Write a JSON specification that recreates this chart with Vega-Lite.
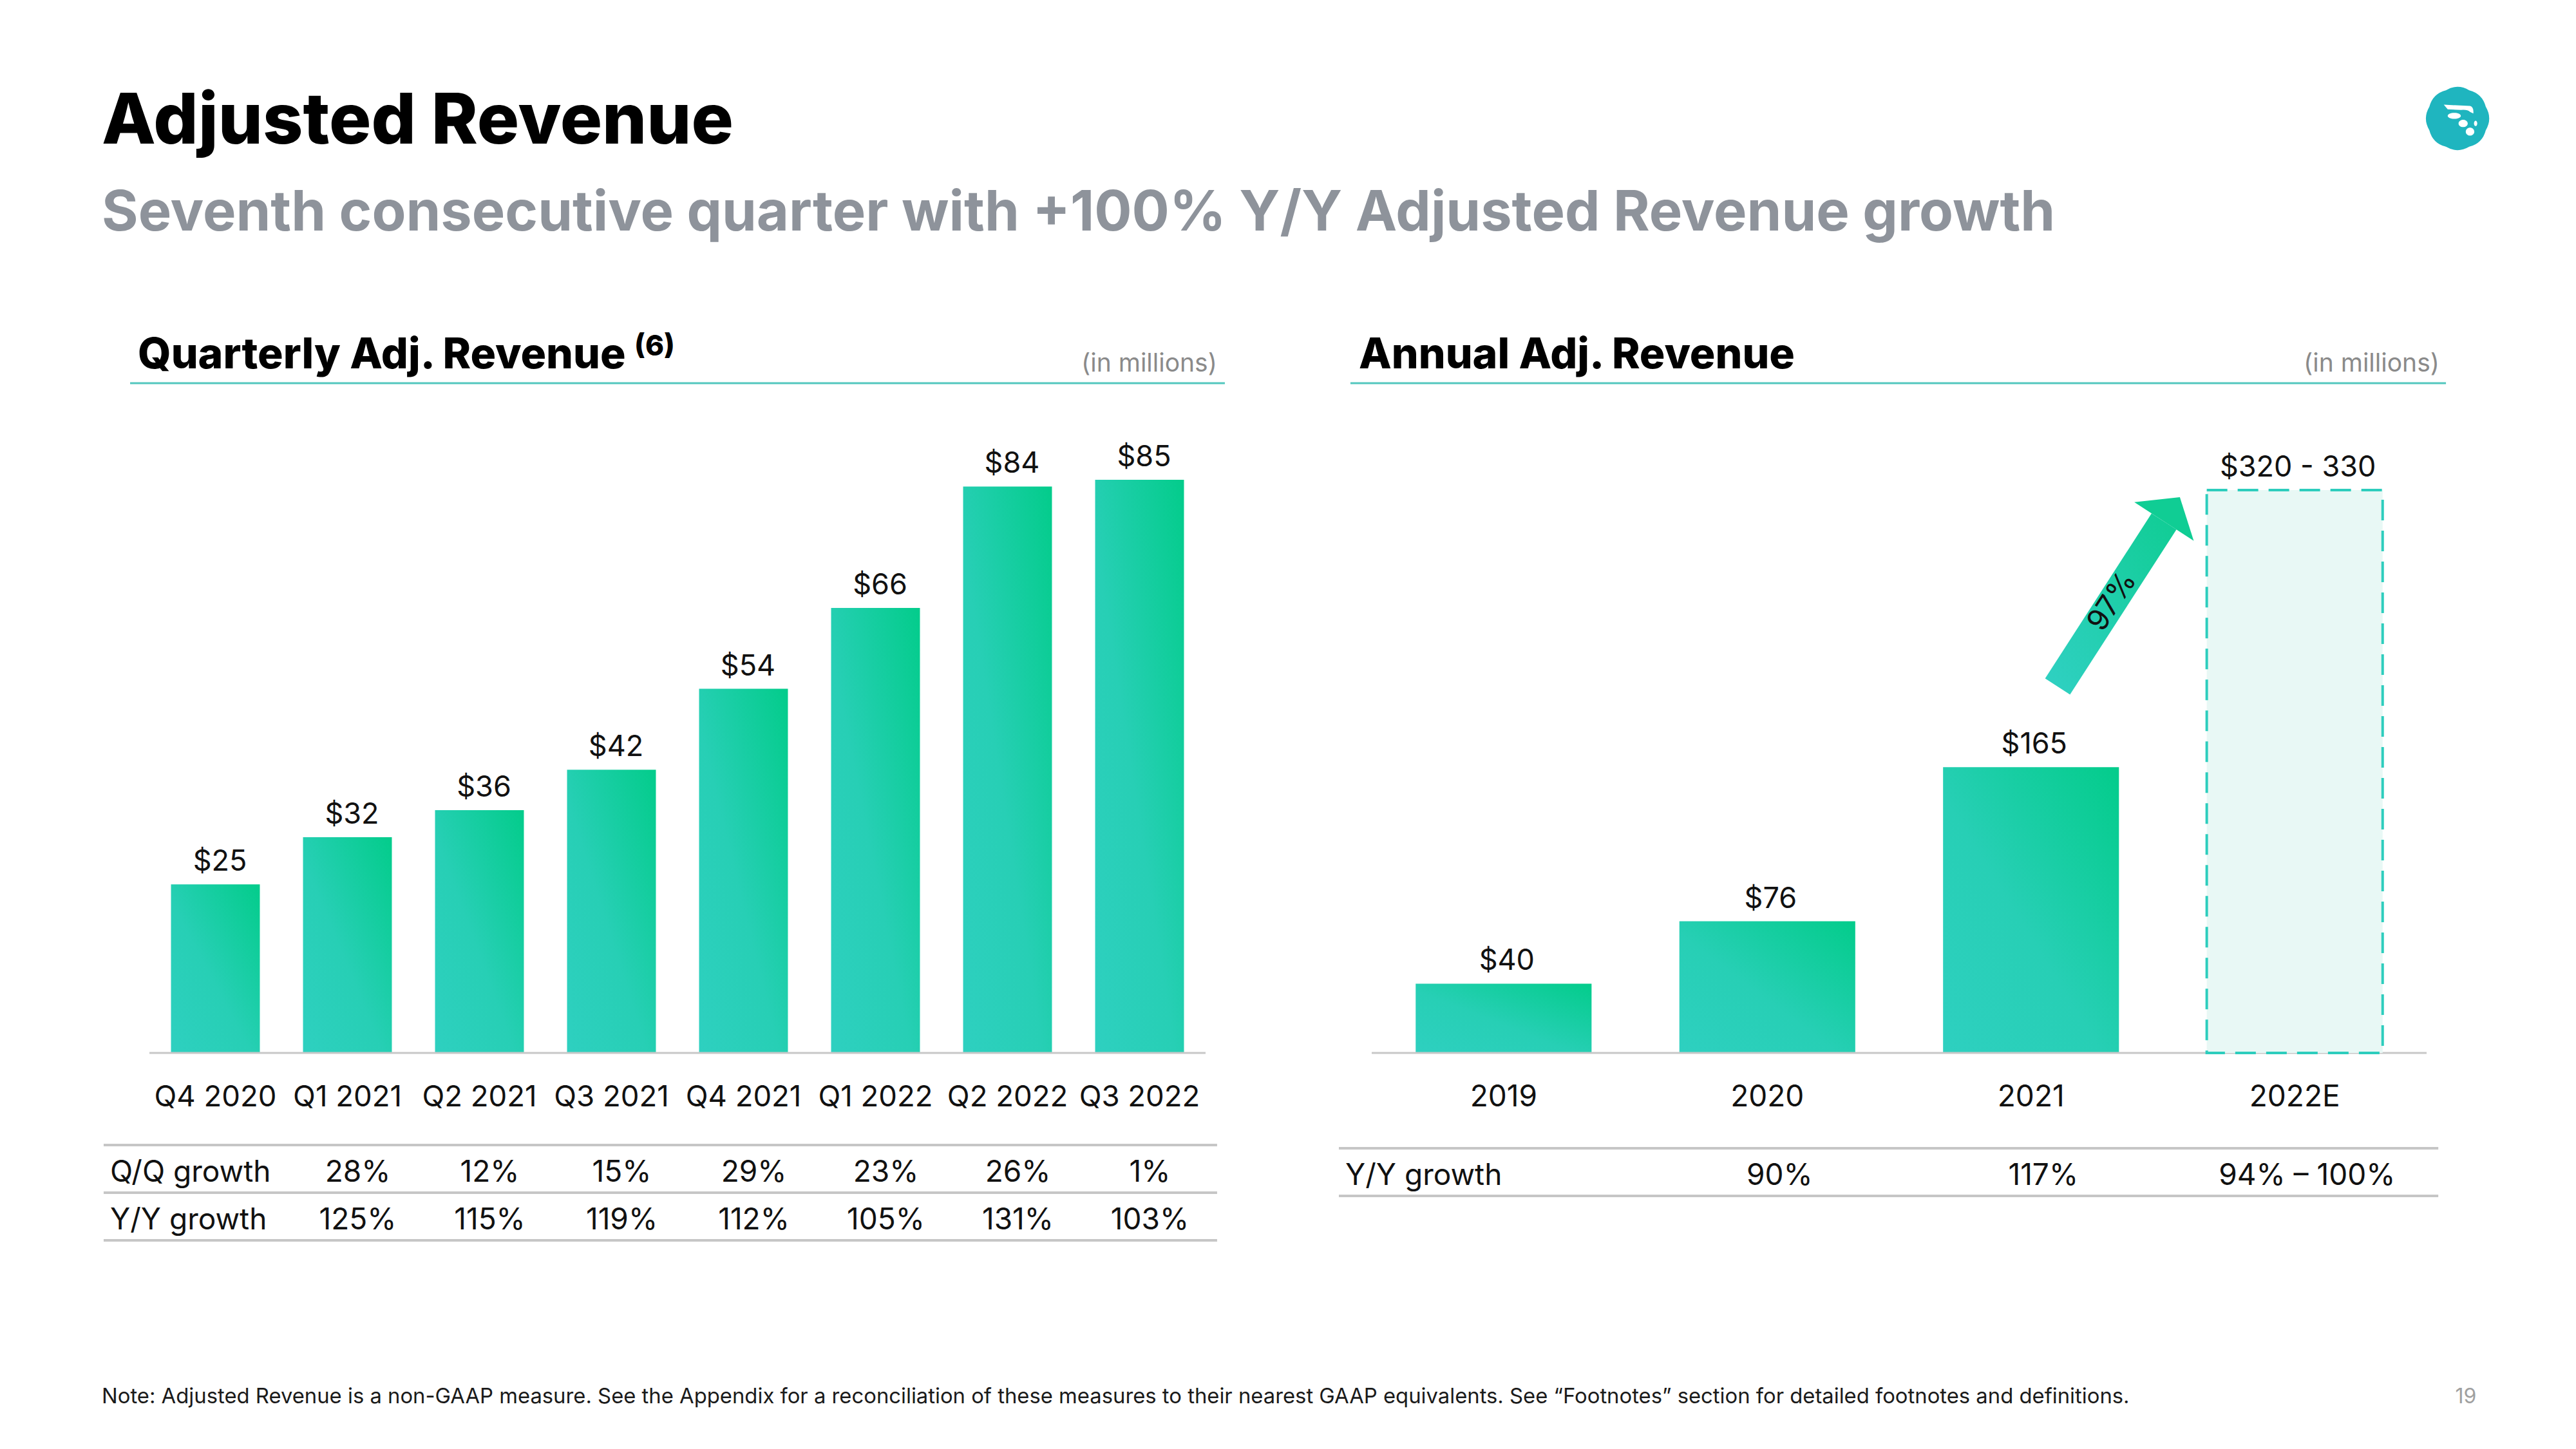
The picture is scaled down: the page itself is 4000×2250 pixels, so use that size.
{
"$schema":"https://vega.github.io/schema/vega-lite/v6.json",
"width":4000,"height":2250,"autosize":"none","padding":0,"background":"#ffffff",
"config":{"view":{"stroke":null},"text":{"font":"Inter"},"axis":{"labelFont":"Inter","grid":false}},
"title":{"text":"Adjusted Revenue","subtitle":"Seventh consecutive quarter with +100% Y/Y Adjusted Revenue growth","anchor":"start","frame":"group","dx":158,"offset":-376.5,"font":"Inter","fontSize":109,"fontWeight":800,"color":"#000000","subtitleFont":"Inter","subtitleFontSize":86.5,"subtitleFontWeight":700,"subtitleColor":"#8E939B","subtitlePadding":44},
"datasets":{
 "quarterly":[
  {"quarter":"Q4 2020","revenue":25},{"quarter":"Q1 2021","revenue":32},{"quarter":"Q2 2021","revenue":36},{"quarter":"Q3 2021","revenue":42},
  {"quarter":"Q4 2021","revenue":54},{"quarter":"Q1 2022","revenue":66},{"quarter":"Q2 2022","revenue":84},{"quarter":"Q3 2022","revenue":85}],
 "quarterly_growth":[
  {"quarter":"Q1 2021","metric":"Q/Q growth","growth":"28%"},{"quarter":"Q2 2021","metric":"Q/Q growth","growth":"12%"},{"quarter":"Q3 2021","metric":"Q/Q growth","growth":"15%"},{"quarter":"Q4 2021","metric":"Q/Q growth","growth":"29%"},{"quarter":"Q1 2022","metric":"Q/Q growth","growth":"23%"},{"quarter":"Q2 2022","metric":"Q/Q growth","growth":"26%"},{"quarter":"Q3 2022","metric":"Q/Q growth","growth":"1%"},
  {"quarter":"Q1 2021","metric":"Y/Y growth","growth":"125%"},{"quarter":"Q2 2021","metric":"Y/Y growth","growth":"115%"},{"quarter":"Q3 2021","metric":"Y/Y growth","growth":"119%"},{"quarter":"Q4 2021","metric":"Y/Y growth","growth":"112%"},{"quarter":"Q1 2022","metric":"Y/Y growth","growth":"105%"},{"quarter":"Q2 2022","metric":"Y/Y growth","growth":"131%"},{"quarter":"Q3 2022","metric":"Y/Y growth","growth":"103%"}],
 "quarterly_metrics":[{"metric":"Q/Q growth"},{"metric":"Y/Y growth"}],
 "annual":[
  {"year":"2019","revenue":40,"label":"$40","kind":"actual"},{"year":"2020","revenue":76,"label":"$76","kind":"actual"},{"year":"2021","revenue":165,"label":"$165","kind":"actual"},{"year":"2022E","revenue":325,"label":"$320 - 330","kind":"estimate"}],
 "annual_growth":[
  {"year":"2020","metric":"Y/Y growth","growth":"90%"},{"year":"2021","metric":"Y/Y growth","growth":"117%"},{"year":"2022E","metric":"Y/Y growth","growth":"94% – 100%"}],
 "annual_metrics":[{"metric":"Y/Y growth"}]
},
"layer":[
 {"layer":[
  {"data":{"name":"quarterly"},
   "mark":{"type":"bar","color":{"gradient":"linear","x1":0,"y1":1,"x2":1,"y2":0,"stops":[{"offset":0,"color":"#2ED0C0"},{"offset":0.45,"color":"#27CFB5"},{"offset":1,"color":"#03CC8B"}]}},
   "encoding":{
    "x":{"field":"quarter","type":"nominal","scale":{"type":"band","domain":["Q4 2020","Q1 2021","Q2 2021","Q3 2021","Q4 2021","Q1 2022","Q2 2022","Q3 2022"],"range":[232,1872],"paddingInner":0.327,"paddingOuter":0.1635},"axis":null},
    "y":{"field":"revenue","type":"quantitative","scale":{"type":"linear","domain":[0,85],"range":[1635,745],"nice":false,"zero":false},"axis":null}}},
  {"data":{"values":[{"text":"baseline"}]},
   "mark":{"type":"rule","color":"#C8C8C8","strokeWidth":3},
   "encoding":{
    "x":{"datum":"Q4 2020","type":"nominal","bandPosition":-0.2428,"scale":{"type":"band","domain":["Q4 2020","Q1 2021","Q2 2021","Q3 2021","Q4 2021","Q1 2022","Q2 2022","Q3 2022"],"range":[232,1872],"paddingInner":0.327,"paddingOuter":0.1635},"axis":null},
    "x2":{"datum":"Q3 2022","bandPosition":1.2428},
    "y":{"datum":0,"type":"quantitative","scale":{"type":"linear","domain":[0,85],"range":[1635,745],"nice":false,"zero":false},"axis":null}}},
  {"data":{"name":"quarterly"},
   "mark":{"type":"text","fontSize":45.5,"color":"#111111","align":"center","baseline":"alphabetic"},
   "encoding":{
    "x":{"field":"quarter","type":"nominal","scale":{"type":"band","domain":["Q4 2020","Q1 2021","Q2 2021","Q3 2021","Q4 2021","Q1 2022","Q2 2022","Q3 2022"],"range":[232,1872],"paddingInner":0.327,"paddingOuter":0.1635},"axis":null},
    "y":{"datum":-7.93,"type":"quantitative","scale":{"type":"linear","domain":[0,85],"range":[1635,745],"nice":false,"zero":false},"axis":null},
    "text":{"field":"quarter","type":"nominal"}}},
  {"data":{"name":"quarterly"},
   "mark":{"type":"text","dy":-21,"dx":7,"fontSize":45,"color":"#111111","align":"center","baseline":"alphabetic"},
   "encoding":{
    "x":{"field":"quarter","type":"nominal","scale":{"type":"band","domain":["Q4 2020","Q1 2021","Q2 2021","Q3 2021","Q4 2021","Q1 2022","Q2 2022","Q3 2022"],"range":[232,1872],"paddingInner":0.327,"paddingOuter":0.1635},"axis":null},
    "y":{"field":"revenue","type":"quantitative","scale":{"type":"linear","domain":[0,85],"range":[1635,745],"nice":false,"zero":false},"axis":null},
    "text":{"field":"revenue","type":"quantitative","format":"$.0f"}}},
  {"data":{"values":[{"text":"Quarterly Adj. Revenue"}]},
   "mark":{"type":"text","align":"left","baseline":"alphabetic","fontSize":66,"fontWeight":800,"color":"#000000"},
   "encoding":{
    "x":{"datum":"Q4 2020","type":"nominal","bandPosition":-0.373,"scale":{"type":"band","domain":["Q4 2020","Q1 2021","Q2 2021","Q3 2021","Q4 2021","Q1 2022","Q2 2022","Q3 2022"],"range":[232,1872],"paddingInner":0.327,"paddingOuter":0.1635},"axis":null},
    "y":{"datum":101.52,"type":"quantitative","scale":{"type":"linear","domain":[0,85],"range":[1635,745],"nice":false,"zero":false},"axis":null},
    "text":{"field":"text","type":"nominal"}}},
  {"data":{"values":[{"text":"(6)"}]},
   "mark":{"type":"text","align":"left","baseline":"alphabetic","fontSize":44,"fontWeight":800,"color":"#000000"},
   "encoding":{
    "x":{"datum":"Q4 2021","type":"nominal","bandPosition":-0.728,"scale":{"type":"band","domain":["Q4 2020","Q1 2021","Q2 2021","Q3 2021","Q4 2021","Q1 2022","Q2 2022","Q3 2022"],"range":[232,1872],"paddingInner":0.327,"paddingOuter":0.1635},"axis":null},
    "y":{"datum":103.43,"type":"quantitative","scale":{"type":"linear","domain":[0,85],"range":[1635,745],"nice":false,"zero":false},"axis":null},
    "text":{"field":"text","type":"nominal"}}},
  {"data":{"values":[{"text":"(in millions)"}]},
   "mark":{"type":"text","align":"right","baseline":"alphabetic","fontSize":39,"color":"#8A8A8A"},
   "encoding":{
    "x":{"datum":"Q3 2022","type":"nominal","bandPosition":1.373,"scale":{"type":"band","domain":["Q4 2020","Q1 2021","Q2 2021","Q3 2021","Q4 2021","Q1 2022","Q2 2022","Q3 2022"],"range":[232,1872],"paddingInner":0.327,"paddingOuter":0.1635},"axis":null},
    "y":{"datum":101.04,"type":"quantitative","scale":{"type":"linear","domain":[0,85],"range":[1635,745],"nice":false,"zero":false},"axis":null},
    "text":{"field":"text","type":"nominal"}}},
  {"data":{"values":[{"text":"rule"}]},
   "mark":{"type":"rule","color":"#52C7BE","strokeWidth":3},
   "encoding":{
    "x":{"datum":"Q4 2020","type":"nominal","bandPosition":-0.46,"scale":{"type":"band","domain":["Q4 2020","Q1 2021","Q2 2021","Q3 2021","Q4 2021","Q1 2022","Q2 2022","Q3 2022"],"range":[232,1872],"paddingInner":0.327,"paddingOuter":0.1635},"axis":null},
    "x2":{"datum":"Q3 2022","bandPosition":1.46},
    "y":{"datum":99.33,"type":"quantitative","scale":{"type":"linear","domain":[0,85],"range":[1635,745],"nice":false,"zero":false},"axis":null}}},
  {"data":{"values":[{"text":"Note: Adjusted Revenue is a non-GAAP measure. See the Appendix for a reconciliation of these measures to their nearest GAAP equivalents. See “Footnotes” section for detailed footnotes and definitions."}]},
   "mark":{"type":"text","align":"left","baseline":"alphabetic","fontSize":32.8,"color":"#1A1A1A"},
   "encoding":{
    "x":{"datum":"Q4 2020","type":"nominal","bandPosition":-0.779,"scale":{"type":"band","domain":["Q4 2020","Q1 2021","Q2 2021","Q3 2021","Q4 2021","Q1 2022","Q2 2022","Q3 2022"],"range":[232,1872],"paddingInner":0.327,"paddingOuter":0.1635},"axis":null},
    "y":{"datum":-51.95,"type":"quantitative","scale":{"type":"linear","domain":[0,85],"range":[1635,745],"nice":false,"zero":false},"axis":null},
    "text":{"field":"text","type":"nominal"}}}
 ]},
 {"layer":[
  {"data":{"name":"quarterly_growth"},
   "mark":{"type":"text","align":"center","baseline":"middle","dy":6,"dx":3,"fontSize":46,"color":"#111111"},
   "encoding":{
    "x":{"field":"quarter","type":"nominal","scale":{"type":"band","domain":["Q4 2020","Q1 2021","Q2 2021","Q3 2021","Q4 2021","Q1 2022","Q2 2022","Q3 2022"],"range":[245,1885],"paddingInner":0,"paddingOuter":0},"axis":null},
    "y":{"field":"metric","type":"nominal","scale":{"type":"band","domain":["Q/Q growth","Y/Y growth"],"range":[1778,1926],"paddingInner":0,"paddingOuter":0},"axis":null},
    "text":{"field":"growth","type":"nominal"}}},
  {"data":{"name":"quarterly_metrics"},
   "mark":{"type":"text","align":"left","baseline":"middle","dy":6,"fontSize":46,"color":"#111111"},
   "encoding":{
    "x":{"datum":"Q4 2020","type":"nominal","bandPosition":-0.361,"scale":{"type":"band","domain":["Q4 2020","Q1 2021","Q2 2021","Q3 2021","Q4 2021","Q1 2022","Q2 2022","Q3 2022"],"range":[245,1885],"paddingInner":0,"paddingOuter":0},"axis":null},
    "y":{"field":"metric","type":"nominal","scale":{"type":"band","domain":["Q/Q growth","Y/Y growth"],"range":[1778,1926],"paddingInner":0,"paddingOuter":0},"axis":null},
    "text":{"field":"metric","type":"nominal"}}},
  {"data":{"name":"quarterly_metrics"},
   "mark":{"type":"rule","color":"#C6C6C6","strokeWidth":4},
   "encoding":{
    "x":{"datum":"Q4 2020","type":"nominal","bandPosition":-0.41,"scale":{"type":"band","domain":["Q4 2020","Q1 2021","Q2 2021","Q3 2021","Q4 2021","Q1 2022","Q2 2022","Q3 2022"],"range":[245,1885],"paddingInner":0,"paddingOuter":0},"axis":null},
    "x2":{"datum":"Q3 2022","bandPosition":1.024},
    "y":{"field":"metric","type":"nominal","bandPosition":0,"scale":{"type":"band","domain":["Q/Q growth","Y/Y growth"],"range":[1778,1926],"paddingInner":0,"paddingOuter":0},"axis":null}}},
  {"data":{"values":[{"metric":"Y/Y growth"}]},
   "mark":{"type":"rule","color":"#C6C6C6","strokeWidth":4},
   "encoding":{
    "x":{"datum":"Q4 2020","type":"nominal","bandPosition":-0.41,"scale":{"type":"band","domain":["Q4 2020","Q1 2021","Q2 2021","Q3 2021","Q4 2021","Q1 2022","Q2 2022","Q3 2022"],"range":[245,1885],"paddingInner":0,"paddingOuter":0},"axis":null},
    "x2":{"datum":"Q3 2022","bandPosition":1.024},
    "y":{"field":"metric","type":"nominal","bandPosition":1,"scale":{"type":"band","domain":["Q/Q growth","Y/Y growth"],"range":[1778,1926],"paddingInner":0,"paddingOuter":0},"axis":null}}}
 ]},
 {"layer":[
  {"data":{"name":"annual"},
   "transform":[{"filter":"datum.kind == 'actual'"}],
   "mark":{"type":"bar","color":{"gradient":"linear","x1":0,"y1":1,"x2":1,"y2":0,"stops":[{"offset":0,"color":"#2ED0C0"},{"offset":0.45,"color":"#27CFB5"},{"offset":1,"color":"#03CC8B"}]}},
   "encoding":{
    "x":{"field":"year","type":"nominal","scale":{"type":"band","domain":["2019","2020","2021","2022E"],"range":[2130,3768],"paddingInner":0.333,"paddingOuter":0.1667},"axis":null},
    "y":{"field":"revenue","type":"quantitative","scale":{"type":"linear","domain":[0,325],"range":[1635,761],"nice":false,"zero":false},"axis":null}}},
  {"data":{"values":[{"text":"baseline"}]},
   "mark":{"type":"rule","color":"#C8C8C8","strokeWidth":3},
   "encoding":{
    "x":{"datum":"2019","type":"nominal","bandPosition":-0.25,"scale":{"type":"band","domain":["2019","2020","2021","2022E"],"range":[2130,3768],"paddingInner":0.333,"paddingOuter":0.1667},"axis":null},
    "x2":{"datum":"2022E","bandPosition":1.25},
    "y":{"datum":0,"type":"quantitative","scale":{"type":"linear","domain":[0,325],"range":[1635,761],"nice":false,"zero":false},"axis":null}}},
  {"data":{"name":"annual"},
   "transform":[{"filter":"datum.kind == 'estimate'"}],
   "mark":{"type":"bar","fill":"#E8F8F5","stroke":"#2DCDBD","strokeWidth":4,"strokeDash":[32,16]},
   "encoding":{
    "x":{"field":"year","type":"nominal","scale":{"type":"band","domain":["2019","2020","2021","2022E"],"range":[2130,3768],"paddingInner":0.333,"paddingOuter":0.1667},"axis":null},
    "y":{"field":"revenue","type":"quantitative","scale":{"type":"linear","domain":[0,325],"range":[1635,761],"nice":false,"zero":false},"axis":null}}},
  {"data":{"name":"annual"},
   "mark":{"type":"text","fontSize":46,"color":"#111111","align":"center","baseline":"alphabetic"},
   "encoding":{
    "x":{"field":"year","type":"nominal","scale":{"type":"band","domain":["2019","2020","2021","2022E"],"range":[2130,3768],"paddingInner":0.333,"paddingOuter":0.1667},"axis":null},
    "y":{"datum":-30.86,"type":"quantitative","scale":{"type":"linear","domain":[0,325],"range":[1635,761],"nice":false,"zero":false},"axis":null},
    "text":{"field":"year","type":"nominal"}}},
  {"data":{"name":"annual"},
   "mark":{"type":"text","dy":-21,"dx":5,"fontSize":45,"color":"#111111","align":"center","baseline":"alphabetic"},
   "encoding":{
    "x":{"field":"year","type":"nominal","scale":{"type":"band","domain":["2019","2020","2021","2022E"],"range":[2130,3768],"paddingInner":0.333,"paddingOuter":0.1667},"axis":null},
    "y":{"field":"revenue","type":"quantitative","scale":{"type":"linear","domain":[0,325],"range":[1635,761],"nice":false,"zero":false},"axis":null},
    "text":{"field":"label","type":"nominal"}}},
  {"data":{"values":[{"text":"Annual Adj. Revenue"}]},
   "mark":{"type":"text","align":"left","baseline":"alphabetic","fontSize":66,"fontWeight":800,"color":"#000000"},
   "encoding":{
    "x":{"datum":"2019","type":"nominal","bandPosition":-0.323,"scale":{"type":"band","domain":["2019","2020","2021","2022E"],"range":[2130,3768],"paddingInner":0.333,"paddingOuter":0.1667},"axis":null},
    "y":{"datum":395.28,"type":"quantitative","scale":{"type":"linear","domain":[0,325],"range":[1635,761],"nice":false,"zero":false},"axis":null},
    "text":{"field":"text","type":"nominal"}}},
  {"data":{"values":[{"text":"(in millions)"}]},
   "mark":{"type":"text","align":"right","baseline":"alphabetic","fontSize":39,"color":"#8A8A8A"},
   "encoding":{
    "x":{"datum":"2022E","type":"nominal","bandPosition":1.323,"scale":{"type":"band","domain":["2019","2020","2021","2022E"],"range":[2130,3768],"paddingInner":0.333,"paddingOuter":0.1667},"axis":null},
    "y":{"datum":393.42,"type":"quantitative","scale":{"type":"linear","domain":[0,325],"range":[1635,761],"nice":false,"zero":false},"axis":null},
    "text":{"field":"text","type":"nominal"}}},
  {"data":{"values":[{"text":"rule"}]},
   "mark":{"type":"rule","color":"#52C7BE","strokeWidth":3},
   "encoding":{
    "x":{"datum":"2019","type":"nominal","bandPosition":-0.371,"scale":{"type":"band","domain":["2019","2020","2021","2022E"],"range":[2130,3768],"paddingInner":0.333,"paddingOuter":0.1667},"axis":null},
    "x2":{"datum":"2022E","bandPosition":1.36},
    "y":{"datum":386.73,"type":"quantitative","scale":{"type":"linear","domain":[0,325],"range":[1635,761],"nice":false,"zero":false},"axis":null}}},
  {"data":{"values":[{"text":"arrow"}]},
   "mark":{"type":"rule","strokeWidth":46,"strokeCap":"butt","stroke":{"gradient":"linear","x1":0,"y1":1,"x2":1,"y2":0,"stops":[{"offset":0,"color":"#2ED0C0"},{"offset":1,"color":"#12CD97"}]}},
   "encoding":{
    "x":{"datum":"2021","type":"nominal","bandPosition":0.651,"scale":{"type":"band","domain":["2019","2020","2021","2022E"],"range":[2130,3768],"paddingInner":0.333,"paddingOuter":0.1667},"axis":null},
    "x2":{"datum":"2022E","bandPosition":-0.243},
    "y":{"datum":211.58,"type":"quantitative","scale":{"type":"linear","domain":[0,325],"range":[1635,761],"nice":false,"zero":false},"axis":null},
    "y2":{"datum":306.85}}},
  {"data":{"values":[{"text":"arrowhead"}]},
   "mark":{"type":"point","shape":"M0,0L-1,0.82L1,0.82Z","filled":true,"size":12100,"angle":33,"color":"#10CD94","opacity":1,"strokeWidth":0},
   "encoding":{
    "x":{"datum":"2022E","type":"nominal","bandPosition":-0.153,"scale":{"type":"band","domain":["2019","2020","2021","2022E"],"range":[2130,3768],"paddingInner":0.333,"paddingOuter":0.1667},"axis":null},
    "y":{"datum":320.91,"type":"quantitative","scale":{"type":"linear","domain":[0,325],"range":[1635,761],"nice":false,"zero":false},"axis":null}}},
  {"data":{"values":[{"text":"97%"}]},
   "mark":{"type":"text","align":"center","baseline":"middle","fontSize":46,"angle":303,"color":"#111111"},
   "encoding":{
    "x":{"datum":"2021","type":"nominal","bandPosition":0.962,"scale":{"type":"band","domain":["2019","2020","2021","2022E"],"range":[2130,3768],"paddingInner":0.333,"paddingOuter":0.1667},"axis":null},
    "y":{"datum":260.67,"type":"quantitative","scale":{"type":"linear","domain":[0,325],"range":[1635,761],"nice":false,"zero":false},"axis":null},
    "text":{"field":"text","type":"nominal"}}},
  {"data":{"values":[{"text":"logo"}]},
   "mark":{"type":"point","shape":"M0.859,-0.356Q1.07,0 0.859,0.356Q0.757,0.757 0.356,0.859Q0,1.07 -0.356,0.859Q-0.757,0.757 -0.859,0.356Q-1.07,0 -0.859,-0.356Q-0.757,-0.757 -0.356,-0.859Q0,-1.07 0.356,-0.859Q0.757,-0.757 0.859,-0.356Z","filled":true,"size":10400,"color":"#1FB5BF","opacity":1,"strokeWidth":0},
   "encoding":{
    "x":{"datum":"2022E","type":"nominal","bandPosition":1.426,"scale":{"type":"band","domain":["2019","2020","2021","2022E"],"range":[2130,3768],"paddingInner":0.333,"paddingOuter":0.1667},"axis":null},
    "y":{"datum":539.56,"type":"quantitative","scale":{"type":"linear","domain":[0,325],"range":[1635,761],"nice":false,"zero":false},"axis":null}}},
  {"data":{"values":[{"text":"logo mark"}]},
   "mark":{"type":"point","shape":"M-0.42,-0.42L0.38,-0.38Q0.5,-0.35 0.48,-0.15L0.38,-0.2Q0.3,-0.28 0.1,-0.26L-0.3,-0.28Z M-0.3,-0.08A0.2,0.09 0 1,0 0.1,-0.08A0.2,0.09 0 1,0 -0.3,-0.08Z M0.03,0.15A0.14,0.11 0 1,0 0.31,0.15A0.14,0.11 0 1,0 0.03,0.15Z M0.25,0.4A0.13,0.12 0 1,0 0.51,0.4A0.13,0.12 0 1,0 0.25,0.4Z M0.5,0.15A0.05,0.08 0 1,0 0.6,0.15A0.05,0.08 0 1,0 0.5,0.15Z","filled":true,"size":10400,"color":"#FFFFFF","opacity":1,"strokeWidth":0},
   "encoding":{
    "x":{"datum":"2022E","type":"nominal","bandPosition":1.426,"scale":{"type":"band","domain":["2019","2020","2021","2022E"],"range":[2130,3768],"paddingInner":0.333,"paddingOuter":0.1667},"axis":null},
    "y":{"datum":539.56,"type":"quantitative","scale":{"type":"linear","domain":[0,325],"range":[1635,761],"nice":false,"zero":false},"axis":null}}},
  {"data":{"values":[{"text":"19"}]},
   "mark":{"type":"text","align":"center","baseline":"alphabetic","fontSize":32,"color":"#A0A0A0"},
   "encoding":{
    "x":{"datum":"2022E","type":"nominal","bandPosition":1.473,"scale":{"type":"band","domain":["2019","2020","2021","2022E"],"range":[2130,3768],"paddingInner":0.333,"paddingOuter":0.1667},"axis":null},
    "y":{"datum":-202.29,"type":"quantitative","scale":{"type":"linear","domain":[0,325],"range":[1635,761],"nice":false,"zero":false},"axis":null},
    "text":{"field":"text","type":"nominal"}}}
 ]},
 {"layer":[
  {"data":{"name":"annual_growth"},
   "mark":{"type":"text","align":"center","baseline":"middle","dy":6,"fontSize":46,"color":"#111111"},
   "encoding":{
    "x":{"field":"year","type":"nominal","scale":{"type":"band","domain":["2019","2020","2021","2022E"],"range":[2149,3787],"paddingInner":0,"paddingOuter":0},"axis":null},
    "y":{"field":"metric","type":"nominal","scale":{"type":"band","domain":["Y/Y growth"],"range":[1783,1857],"paddingInner":0,"paddingOuter":0},"axis":null},
    "text":{"field":"growth","type":"nominal"}}},
  {"data":{"name":"annual_metrics"},
   "mark":{"type":"text","align":"left","baseline":"middle","dy":6,"fontSize":46,"color":"#111111"},
   "encoding":{
    "x":{"datum":"2019","type":"nominal","bandPosition":-0.1465,"scale":{"type":"band","domain":["2019","2020","2021","2022E"],"range":[2149,3787],"paddingInner":0,"paddingOuter":0},"axis":null},
    "y":{"field":"metric","type":"nominal","scale":{"type":"band","domain":["Y/Y growth"],"range":[1783,1857],"paddingInner":0,"paddingOuter":0},"axis":null},
    "text":{"field":"metric","type":"nominal"}}},
  {"data":{"name":"annual_metrics"},
   "mark":{"type":"rule","color":"#C6C6C6","strokeWidth":4},
   "encoding":{
    "x":{"datum":"2019","type":"nominal","bandPosition":-0.171,"scale":{"type":"band","domain":["2019","2020","2021","2022E"],"range":[2149,3787],"paddingInner":0,"paddingOuter":0},"axis":null},
    "x2":{"datum":"2022E","bandPosition":0.998},
    "y":{"field":"metric","type":"nominal","bandPosition":0,"scale":{"type":"band","domain":["Y/Y growth"],"range":[1783,1857],"paddingInner":0,"paddingOuter":0},"axis":null}}},
  {"data":{"name":"annual_metrics"},
   "mark":{"type":"rule","color":"#C6C6C6","strokeWidth":4},
   "encoding":{
    "x":{"datum":"2019","type":"nominal","bandPosition":-0.171,"scale":{"type":"band","domain":["2019","2020","2021","2022E"],"range":[2149,3787],"paddingInner":0,"paddingOuter":0},"axis":null},
    "x2":{"datum":"2022E","bandPosition":0.998},
    "y":{"field":"metric","type":"nominal","bandPosition":1,"scale":{"type":"band","domain":["Y/Y growth"],"range":[1783,1857],"paddingInner":0,"paddingOuter":0},"axis":null}}}
 ]}
],
"resolve":{"scale":{"x":"independent","y":"independent"}}
}
